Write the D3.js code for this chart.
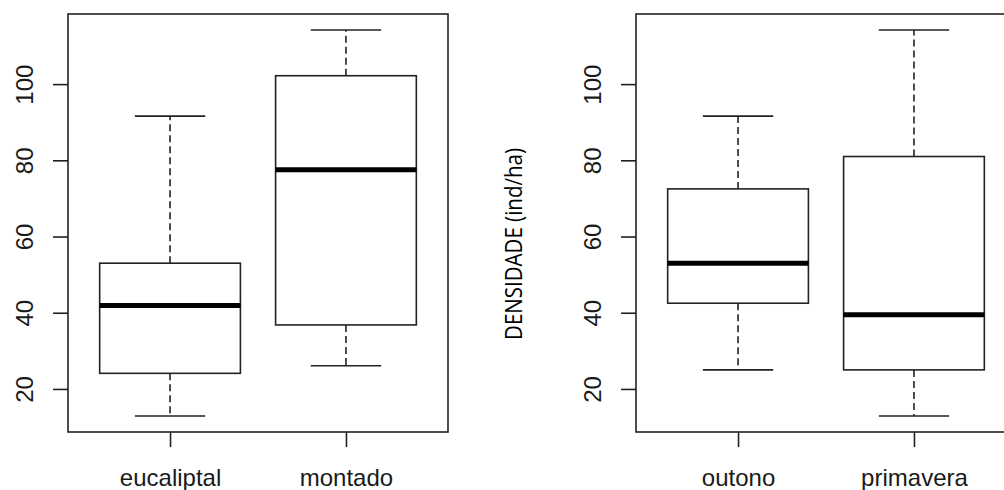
<!DOCTYPE html>
<html lang="en">
<head>
    <meta charset="UTF-8">
    <title>Densidade boxplots</title>
    <script src="https://d3js.org/d3.v7.min.js"></script>
    <style>
        body {
            margin: 0;
            background-color: #fff;
        }
        svg {
            display: block;
        }
        .frame {
            fill: none;
            stroke: #222;
            stroke-width: 1.6;
        }
        .axis line {
            stroke: #222;
            stroke-width: 1.6;
        }
        .axis text {
            font-family: 'Liberation Sans', Arial, sans-serif;
            font-size: 24px;
            fill: #1a1a1a;
        }
        .box {
            fill: #fff;
            stroke: #222;
            stroke-width: 1.6;
        }
        .median {
            stroke: #000;
            stroke-width: 5;
        }
        .whisker {
            stroke: #222;
            stroke-width: 1.6;
            stroke-dasharray: 7, 4;
        }
        .cap {
            stroke: #222;
            stroke-width: 1.6;
        }
        .ylab {
            font-family: 'Open Sans', 'Noto Sans', sans-serif;
            font-size: 23px;
            fill: #000;
        }
    </style>
</head>
<body>
    <svg width="1004" height="490"></svg>

    <script>
        // left panel: habitat
        const habitat = ["eucaliptal", "montado"];
        const habitatLow = [12.9, 26.1];
        const habitatQ1 = [24.1, 36.8];
        const habitatMedian = [41.9, 77.5];
        const habitatQ3 = [53.0, 102.2];
        const habitatHigh = [91.6, 114.2];

        // right panel: season
        const season = ["outono", "primavera"];
        const seasonLow = [25.0, 12.9];
        const seasonQ1 = [42.5, 25.0];
        const seasonMedian = [53.0, 39.5];
        const seasonQ3 = [72.5, 81.0];
        const seasonHigh = [91.6, 114.2];

        const yTicks = [20, 40, 60, 80, 100];
        const yDomain = [8.7, 118.4];

        const svg = d3.select("svg");
        const plotTop = 14, plotBottom = 432;
        const panelWidth = 380;
        const boxWex = 0.8;
        const stapleWex = 0.4;

        const y = d3.scaleLinear(yDomain, [plotBottom, plotTop]);

        function drawPanel(left, names, low, q1, med, q3, high, ylab) {
            const x = d3.scaleLinear([0.42, names.length + 0.58], [left, left + panelWidth]);
            const g = svg.append("g");

            const stats = names.map((name, i) => ({
                name: name,
                pos: i + 1,
                low: low[i],
                q1: q1[i],
                med: med[i],
                q3: q3[i],
                high: high[i]
            }));

            // whiskers
            g.append("g").selectAll("line")
                .data(stats)
                .join("line")
                .attr("class", "whisker")
                .attr("x1", d => x(d.pos))
                .attr("x2", d => x(d.pos))
                .attr("y1", d => y(d.q3))
                .attr("y2", d => y(d.high));

            g.append("g").selectAll("line")
                .data(stats)
                .join("line")
                .attr("class", "whisker")
                .attr("x1", d => x(d.pos))
                .attr("x2", d => x(d.pos))
                .attr("y1", d => y(d.q1))
                .attr("y2", d => y(d.low));

            ["low", "high"].forEach(k => {
                g.append("g").selectAll("line")
                    .data(stats)
                    .join("line")
                    .attr("class", "cap")
                    .attr("x1", d => x(d.pos - stapleWex / 2))
                    .attr("x2", d => x(d.pos + stapleWex / 2))
                    .attr("y1", d => y(d[k]))
                    .attr("y2", d => y(d[k]));
            });

            // boxes
            g.append("g").selectAll("rect")
                .data(stats)
                .join("rect")
                .attr("class", "box")
                .attr("x", d => x(d.pos - boxWex / 2))
                .attr("width", d => x(d.pos + boxWex / 2) - x(d.pos - boxWex / 2))
                .attr("y", d => y(d.q3))
                .attr("height", d => y(d.q1) - y(d.q3));

            g.append("g").selectAll("line")
                .data(stats)
                .join("line")
                .attr("class", "median")
                .attr("x1", d => x(d.pos - boxWex / 2))
                .attr("x2", d => x(d.pos + boxWex / 2))
                .attr("y1", d => y(d.med))
                .attr("y2", d => y(d.med));

            // frame
            g.append("rect")
                .attr("class", "frame")
                .attr("x", left)
                .attr("y", plotTop)
                .attr("width", panelWidth)
                .attr("height", plotBottom - plotTop);

            // y axis
            const yAxis = g.append("g")
                .attr("class", "axis")
                .attr("transform", `translate(${left},0)`)
                .call(d3.axisLeft(y).tickValues(yTicks).tickSize(15).tickSizeOuter(0));
            yAxis.select(".domain").remove();
            yAxis.selectAll("text")
                .attr("x", 0)
                .attr("y", -35)
                .attr("dy", null)
                .attr("transform", "rotate(-90)")
                .attr("text-anchor", "middle");

            // x axis
            const xAxis = g.append("g")
                .attr("class", "axis")
                .attr("transform", `translate(0,${plotBottom})`)
                .call(d3.axisBottom(x)
                    .tickValues(stats.map(d => d.pos))
                    .tickFormat((d, i) => names[i])
                    .tickSize(15)
                    .tickSizeOuter(0));
            xAxis.select(".domain").remove();
            xAxis.selectAll("text")
                .attr("y", 54)
                .attr("dy", null);

            if (ylab) {
                g.append("text")
                    .attr("class", "ylab")
                    .attr("transform", `translate(${left - 114},244) rotate(-90)`)
                    .attr("text-anchor", "middle")
                    .attr("textLength", 192)
                    .attr("lengthAdjust", "spacingAndGlyphs")
                    .text(ylab);
            }
        }

        drawPanel(68, habitat, habitatLow, habitatQ1, habitatMedian, habitatQ3, habitatHigh, null);
        drawPanel(636, season, seasonLow, seasonQ1, seasonMedian, seasonQ3, seasonHigh, "DENSIDADE (ind/ha)");
    </script>
</body>
</html>
